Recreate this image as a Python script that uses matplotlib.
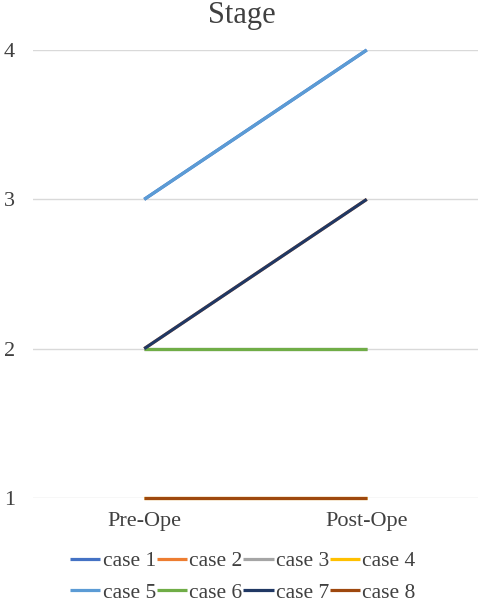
import matplotlib
matplotlib.use("Agg")
import matplotlib.pyplot as plt

categories = ["Pre-Ope", "Post-Ope"]
case_names = ["case 1", "case 2", "case 3", "case 4", "case 5", "case 6", "case 7", "case 8"]
case1 = [3, 4]
case2 = [2, 3]
case3 = [2, 2]
case4 = [1, 1]
case5 = [3, 4]
case6 = [2, 2]
case7 = [2, 3]
case8 = [1, 1]
series = [case1, case2, case3, case4, case5, case6, case7, case8]
colors = ["#4472C4", "#ED7D31", "#A5A5A5", "#FFC000", "#5B9BD5", "#70AD47", "#203864", "#9E480E"]
yticks = [1, 2, 3, 4]

plt.rcParams['font.family'] = ['Liberation Serif', 'DejaVu Serif']

fig = plt.figure(figsize=(4.79, 6.02), dpi=100)
ax = fig.add_axes([33/479, 1 - 498/602, 445/479, 448/602])

x = [0, 1]
handles = []
for name, vals, c in zip(case_names, series, colors):
    h, = ax.plot(x, vals, color=c, lw=2.3, label=name, solid_capstyle='butt',
                 zorder=3, clip_on=False)
    handles.append(h)

ax.set_xlim(-0.5, 1.5)
ax.set_ylim(1, 4)
ax.set_yticks(yticks)
ax.set_yticklabels([str(v) for v in yticks], fontsize=16, color="#404040")
ax.set_xticks(x)
ax.set_xticklabels(categories, fontsize=16, color="#404040")
ax.tick_params(axis='y', length=0, pad=13)
ax.tick_params(axis='x', length=0, pad=10)
ax.grid(axis='y', color='#D9D9D9', lw=1)
for s in ax.spines.values():
    s.set_visible(False)

fig.text(242/479, 1 - 16/602, "Stage", ha='center', va='center', fontsize=22, color="#404040")

# legend filled row-wise: reorder for matplotlib's column-wise fill
ncol = 4
order = [r * ncol + c for c in range(ncol) for r in range(2)]
leg = fig.legend([handles[i] for i in order], [case_names[i] for i in order],
                 loc='center', bbox_to_anchor=(243/479, 1 - 577/602), ncol=ncol, frameon=False,
                 fontsize=15.5, handlelength=1.4, handletextpad=0.1, columnspacing=0.05,
                 labelspacing=0.55, borderaxespad=0)
for t in leg.get_texts():
    t.set_color("#404040")

fig.savefig("out.png", dpi=100)
